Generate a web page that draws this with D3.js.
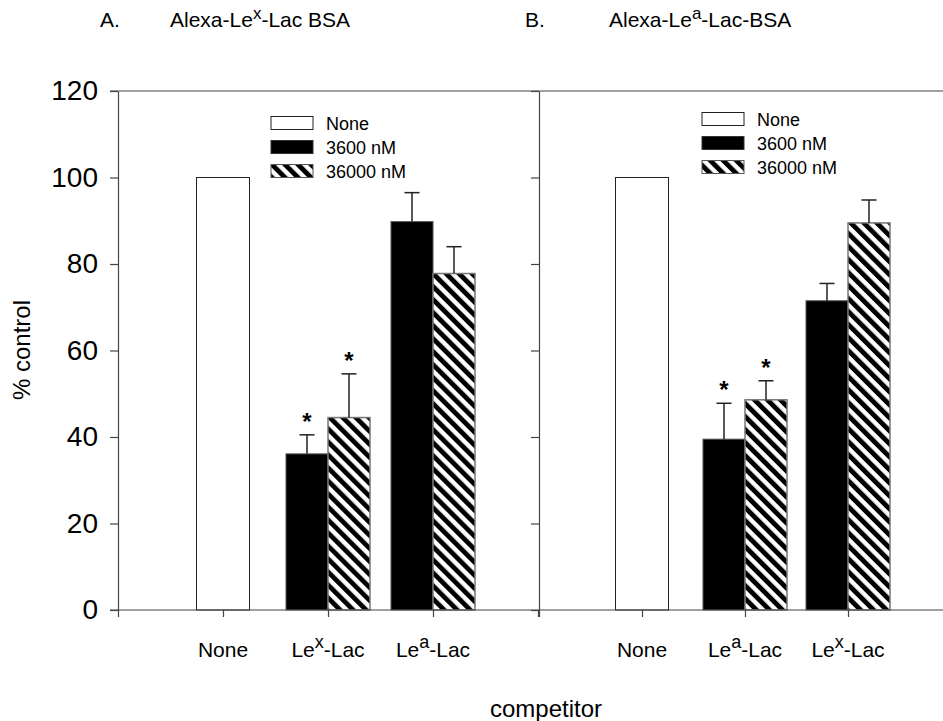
<!DOCTYPE html>
<html>
<head>
<meta charset="utf-8">
<script src="https://cdn.jsdelivr.net/npm/d3@7/dist/d3.min.js"></script>
<style>
  html, body { margin: 0; padding: 0; background: #fff; }
  svg { display: block; font-family: "Liberation Sans", Arial, sans-serif; }
</style>
</head>
<body>
<svg id="chart" width="943" height="721"></svg>
<script>
// ---------------- data ----------------
const seriesNames = ["None", "3600 nM", "36000 nM"];
const yTicks = [0, 20, 40, 60, 80, 100, 120];

// Panel A: Alexa-Le^x-Lac BSA
const categoriesA = ["None", "Le^x-Lac", "Le^a-Lac"];
const noneA      = [100, null, null];
const conc3600A  = [null, 36.1, 89.8];
const conc36000A = [null, 44.5, 77.8];
const err3600A   = [null, 4.4, 6.7];
const err36000A  = [null, 10.1, 6.2];
const star3600A  = [false, true, false];
const star36000A = [false, true, false];

// Panel B: Alexa-Le^a-Lac-BSA
const categoriesB = ["None", "Le^a-Lac", "Le^x-Lac"];
const noneB      = [100, null, null];
const conc3600B  = [null, 39.5, 71.5];
const conc36000B = [null, 48.6, 89.5];
const err3600B   = [null, 8.3, 4.0];
const err36000B  = [null, 4.4, 5.3];
const star3600B  = [false, true, false];
const star36000B = [false, true, false];

// ---------------- layout ----------------
const svg = d3.select("#chart");
const yTop = 91, yBottom = 610;
const y = d3.scaleLinear().domain([0, 120]).range([yBottom, yTop]);
const xA = d3.scaleLinear().domain([0, 4]).range([118, 538]);
const xB = d3.scaleLinear().domain([0, 4]).range([539, 951]);
const axisColor = "#444";

// hatch pattern
const defs = svg.append("defs");
const P = 9.2;
const pat = defs.append("pattern")
  .attr("id", "hatch")
  .attr("patternUnits", "userSpaceOnUse")
  .attr("width", P).attr("height", P)
  .attr("patternTransform", "rotate(-45)");
pat.append("rect").attr("width", P).attr("height", P).attr("fill", "#fff");
pat.append("rect").attr("width", 4.8).attr("height", P).attr("fill", "#000");

function richText(sel, label, fs, supFs, supShift) {
  const parts = label.split(/\^(.)/);
  parts.forEach((p, i) => {
    if (i % 2 === 1) {
      sel.append("tspan").attr("font-size", supFs).attr("dy", -supShift).text(p);
    } else if (i > 0) {
      sel.append("tspan").attr("font-size", fs).attr("dy", supShift).text(p);
    } else {
      sel.append("tspan").text(p);
    }
  });
}

function drawPanel(x, cats, none, c1, c2, e1, e2, s1, s2, leftAxis) {
  const g = svg.append("g");
  const noneW = 53, pairW = 42;

  none.forEach((v, i) => {
    if (v == null) return;
    g.append("rect")
      .attr("x", x(i + 1) - noneW / 2).attr("y", y(v))
      .attr("width", noneW).attr("height", y(0) - y(v))
      .attr("fill", "#fff").attr("stroke", "#222").attr("stroke-width", 1);
  });
  c1.forEach((v, i) => {
    if (v == null) return;
    g.append("rect")
      .attr("x", x(i + 1) - pairW).attr("y", y(v))
      .attr("width", pairW).attr("height", y(0) - y(v))
      .attr("fill", "#000").attr("stroke", "#555").attr("stroke-width", 1);
  });
  c2.forEach((v, i) => {
    if (v == null) return;
    g.append("rect")
      .attr("x", x(i + 1)).attr("y", y(v))
      .attr("width", pairW).attr("height", y(0) - y(v))
      .attr("fill", "url(#hatch)").attr("stroke", "#777").attr("stroke-width", 1.5);
  });
  function errs(vals, es, stars, cxOff) {
    vals.forEach((v, i) => {
      if (v == null || es[i] == null) return;
      const cx = x(i + 1) + cxOff;
      const top = y(v + es[i]);
      g.append("line").attr("x1", cx).attr("x2", cx)
        .attr("y1", y(v)).attr("y2", top)
        .attr("stroke", "#222").attr("stroke-width", 1.5);
      g.append("line").attr("x1", cx - 7.5).attr("x2", cx + 7.5)
        .attr("y1", top).attr("y2", top)
        .attr("stroke", "#222").attr("stroke-width", 1.5);
      if (stars[i]) {
        g.append("text").attr("x", cx).attr("y", top - 5)
          .attr("text-anchor", "middle").attr("font-size", 24)
          .attr("font-weight", "bold").text("*");
      }
    });
  }
  errs(c1, e1, s1, -pairW / 2);
  errs(c2, e2, s2, pairW / 2);

  cats.forEach((c, i) => {
    const t = g.append("text").attr("x", x(i + 1)).attr("y", 657)
      .attr("text-anchor", "middle").attr("font-size", 21);
    richText(t, c, 21, 18, 9);
  });

  const ax = d3.axisLeft(y).tickValues(yTicks).tickSize(8).tickSizeOuter(0);
  if (!leftAxis) ax.tickFormat("");
  const axG = svg.append("g").attr("transform", `translate(${x(0)},0)`).call(ax);
  axG.select(".domain").attr("stroke", axisColor).attr("stroke-width", 1.2);
  axG.selectAll(".tick line").attr("stroke", axisColor).attr("stroke-width", 1.2);
  axG.selectAll(".tick text").attr("font-size", 28).attr("fill", "#000")
    .attr("font-family", "Liberation Sans, Arial, sans-serif").attr("dx", -9);

  const bx = d3.axisBottom(x).tickValues([0, 1, 2, 3, 4]).tickSize(7).tickSizeOuter(0).tickFormat("");
  const bG = svg.append("g").attr("transform", `translate(0,${yBottom})`).call(bx);
  bG.select(".domain").remove();
  bG.selectAll(".tick line").attr("stroke", axisColor).attr("stroke-width", 1.2);
}

drawPanel(xA, categoriesA, noneA, conc3600A, conc36000A, err3600A, err36000A, star3600A, star36000A, true);
drawPanel(xB, categoriesB, noneB, conc3600B, conc36000B, err3600B, err36000B, star3600B, star36000B, false);

svg.append("line").attr("x1", 110).attr("x2", 943).attr("y1", yBottom).attr("y2", yBottom)
  .attr("stroke", axisColor).attr("stroke-width", 1.2);
svg.append("line").attr("x1", 110).attr("x2", 943).attr("y1", yTop).attr("y2", yTop)
  .attr("stroke", axisColor).attr("stroke-width", 1.2);

function legend(x0, rows) {
  const fills = ["#fff", "#000", "url(#hatch)"];
  const strokes = ["#222", "#333", "#555"];
  seriesNames.forEach((n, i) => {
    svg.append("rect").attr("x", x0).attr("y", rows[i] - 6.5)
      .attr("width", 42).attr("height", 13)
      .attr("fill", fills[i]).attr("stroke", strokes[i]).attr("stroke-width", 1);
    svg.append("text").attr("x", x0 + 55).attr("y", rows[i] + 6.5)
      .attr("font-size", 18).text(n);
  });
}
legend(271, [123, 147, 171]);
legend(702, [119, 143, 167]);

svg.append("text").attr("x", 100).attr("y", 27).attr("font-size", 21).text("A.");
const tA = svg.append("text").attr("x", 170).attr("y", 27).attr("font-size", 21);
richText(tA, "Alexa-Le^x-Lac BSA", 21, 17, 8);
svg.append("text").attr("x", 525).attr("y", 27).attr("font-size", 21).text("B.");
const tB = svg.append("text").attr("x", 609).attr("y", 27).attr("font-size", 21);
richText(tB, "Alexa-Le^a-Lac-BSA", 21, 17, 8);

svg.append("text").attr("transform", "translate(30,350) rotate(-90)")
  .attr("text-anchor", "middle").attr("font-size", 24).text("% control");
svg.append("text").attr("x", 546).attr("y", 717)
  .attr("text-anchor", "middle").attr("font-size", 24).text("competitor");
</script>
</body>
</html>
